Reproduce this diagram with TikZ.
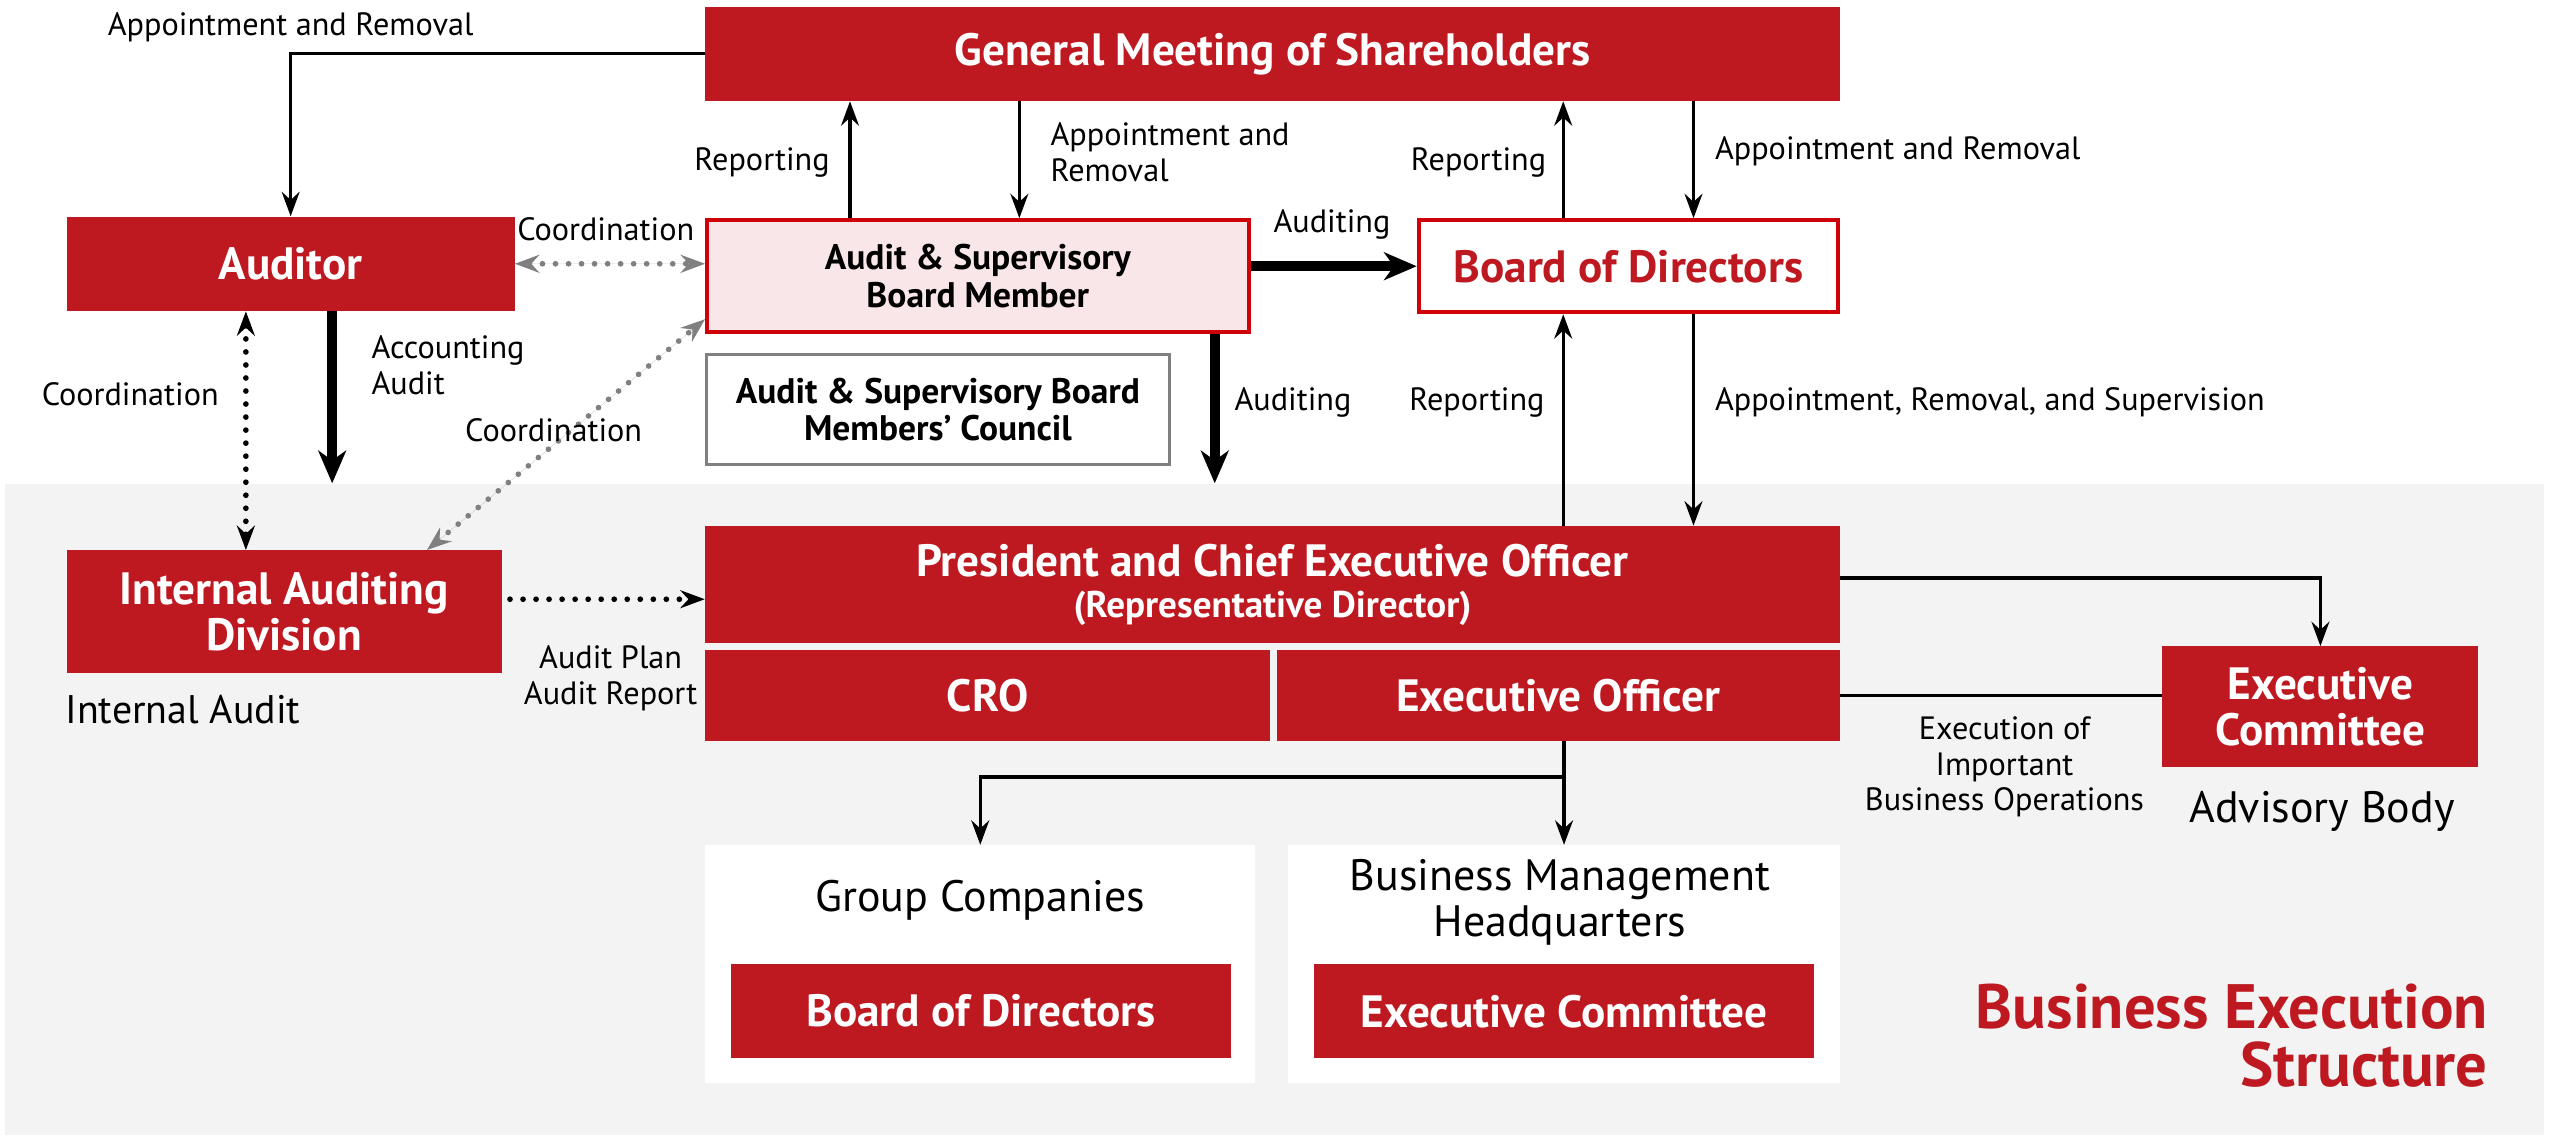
\documentclass[tikz,border=0pt]{standalone}
\usepackage{fontspec}
\setmainfont{PT Sans}
\usetikzlibrary{arrows.meta,calc,positioning}
\definecolor{bred}{RGB}{190,25,32}
\definecolor{bline}{RGB}{206,0,10}
\definecolor{bpink}{RGB}{249,230,232}
\definecolor{bgrey}{RGB}{243,243,243}
\definecolor{dgrey}{RGB}{128,128,128}
\newcommand{\bigfont}{\fontsize{27.8}{28}\selectfont}
\newcommand{\midfont}{\fontsize{21.8}{23}\selectfont}
\newcommand{\lblfont}{\fontsize{19.8}{22}\selectfont}
\newcommand{\capfont}{\fontsize{27}{28}\selectfont}
\tikzset{
  stl/.tip={Stealth[length=15pt,width=11pt,inset=5pt]},
  fatstl/.tip={Stealth[length=20pt,width=17pt,inset=6pt]},
  redbox/.style={fill=bred, text=white, font=\bfseries\bigfont, align=center, inner sep=0pt},
  pinkbox/.style={fill=bpink, draw=bline, line width=2.5pt, font=\bfseries\midfont, align=center, inner sep=0pt},
  whitebox/.style={fill=white, draw=bline, line width=2.5pt, text=bred, font=\bfseries\bigfont, align=center, inner sep=0pt},
  greybox/.style={fill=white, draw=dgrey, line width=1.5pt, font=\bfseries\midfont, align=center, inner sep=0pt},
  panel/.style={fill=white, inner sep=0pt},
  lbl/.style={font=\lblfont, align=center, inner sep=0pt},
  lbll/.style={font=\lblfont, align=left, anchor=west, inner sep=0pt},
  arr/.style={-stl, line width=2pt},
  fatarr/.style={-fatstl, line width=6pt},
  dotline/.style={line width=3.5pt, line cap=round, dash pattern=on 0pt off 8pt},
  dotarr/.style={dotline, stl-stl},
  greydot/.style={dotarr, draw=dgrey, fill=dgrey}
}
\begin{document}
\begin{tikzpicture}[x=1pt,y=-1pt]
\useasboundingbox (0,0) rectangle (1566,700);
\fill [white] (0,0) rectangle (1566,700);
\node [fill=bgrey, minimum width=1559pt, minimum height=400pt, inner sep=0pt] (bexec) at (782.5,497) {};

\node [redbox, minimum width=697pt, minimum height=58pt] (gms) at (781.5,33) {General Meeting of Shareholders};
\node [redbox, minimum width=275pt, minimum height=58pt] (auditor) at (178.5,162) {Auditor};
\node [pinkbox, minimum width=332.5pt, minimum height=68.5pt] (asbm) at (600.5,169.5) {Audit \& Supervisory\\Board Member};
\node [greybox, minimum width=284.5pt, minimum height=67.5pt] (council) at (576,251.5) {Audit \& Supervisory Board\\Members’ Council};
\node [whitebox, minimum width=257.5pt, minimum height=56.5pt] (bod) at (1000,163.5) {Board of Directors};
\node [redbox, minimum width=267pt, minimum height=75pt] (iad) at (174.5,375.5) {Internal Auditing\\Division};
\node [redbox, minimum width=697pt, minimum height=72pt] (pres) at (781.5,359) {President and Chief Executive Officer\\[-3pt]{\fontsize{22.8}{23}\selectfont(Representative Director)}};
\node [redbox, minimum width=347pt, minimum height=56pt] (cro) at (606.5,427) {CRO};
\node [redbox, minimum width=346pt, minimum height=56pt] (eo) at (957,427) {Executive Officer};
\node [redbox, minimum width=194pt, minimum height=74pt] (excom) at (1425,434) {Executive\\Committee};
\node [panel, minimum width=338pt, minimum height=146pt] (grp) at (602,592) {};
\node [redbox, minimum width=307pt, minimum height=58pt] (grpbod) at (602.5,621) {Board of Directors};
\node [panel, minimum width=339pt, minimum height=146pt] (bmh) at (960.5,592) {};
\node [redbox, minimum width=307pt, minimum height=58pt] (bmhec) at (960.5,621) {Executive Committee};

\node [font=\capfont, inner sep=0pt] (grpname) at (602,553) {Group Companies};
\node [font=\capfont, align=center, inner sep=0pt] (bmhname) at (958,554) {Business Management\\Headquarters};
\node [font=\fontsize{24.5}{28}\selectfont, anchor=west, inner sep=0pt] (iadnote) at (40,436) {Internal Audit};
\node [font=\capfont, inner sep=0pt] (excomnote) at (1426,498) {Advisory Body};
\node [font=\bfseries\fontsize{38.5}{36}\selectfont, text=bred, align=right, anchor=east, inner sep=0pt] (bestruct) at (1528,636) {Business Execution\\Structure};

\coordinate (colacc) at (204,0);
\coordinate (colcrd) at (151,0);
\coordinate (colrepa) at (522,0);
\coordinate (colappa) at (626,0);
\coordinate (colaud) at (746,0);
\coordinate (colrepb) at (960,0);
\coordinate (colappb) at (1040,0);
\coordinate (ipstart) at ([xshift=5pt,yshift=7.5pt]iad.east);
\coordinate (split) at ($(eo.south -| bmh.north)+(0,22)$);

\draw [arr] (gms.west) -| (auditor.north);
\draw [arr] (asbm.north -| colrepa) -- (gms.south -| colrepa);
\draw [arr] (gms.south -| colappa) -- (asbm.north -| colappa);
\draw [arr] (bod.north -| colrepb) -- (gms.south -| colrepb);
\draw [arr] (gms.south -| colappb) -- (bod.north -| colappb);
\draw [arr] (pres.north -| colrepb) -- (bod.south -| colrepb);
\draw [arr] (bod.south -| colappb) -- (pres.north -| colappb);
\draw [fatarr] (asbm.east |- bod.west) -- (bod.west);
\draw [fatarr] (auditor.south -| colacc) -- (bexec.north -| colacc);
\draw [fatarr] (asbm.south -| colaud) -- (bexec.north -| colaud);
\draw [greydot] (auditor.east) -- (auditor.east -| asbm.west);
\draw [dotarr] (auditor.south -| colcrd) -- (iad.north -| colcrd);
\draw [greydot] ([xshift=-46pt]iad.north east) -- ([yshift=9pt]asbm.south west);
\draw [dotline, -stl] (ipstart) -- (ipstart -| pres.west);
\draw [arr] ([yshift=4pt]pres.east) -| (excom.north);
\draw [line width=2pt] (eo.east) -- (eo.east -| excom.west);
\draw [arr] (eo.south -| bmh.north) -- (bmh.north);
\draw [arr] (split) -| (grp.north);

\node [lbl] (lgmsaud) at (178.5,17) {Appointment and Removal};
\node [lbl] (lrepa) at (468,100) {Reporting};
\node [lbll] (lappa) at (645,93.5) {Appointment and\\Removal};
\node [lbl] (lrepb) at (908,100) {Reporting};
\node [lbll] (lappb) at (1053,93) {Appointment and Removal};
\node [lbl] (lcrda) at (372,141) {Coordination};
\node [lbl] (lauda) at (818,138) {Auditing};
\node [lbll] (lacc) at (228,224.5) {Accounting\\Audit};
\node [lbl] (lcrdb) at (80,242) {Coordination};
\node [lbl] (lcrdc) at (340,264) {Coordination};
\node [lbll] (laudb) at (758,247) {Auditing};
\node [lbl] (lrepc) at (907,247) {Reporting};
\node [lbll] (lsup) at (1053,247) {Appointment, Removal, and Supervision};
\node [lbl] (lplan) at (375,416.5) {Audit Plan\\Audit Report};
\node [lbl] (lexec) at (1231,471) {Execution of\\Important\\Business Operations};
\end{tikzpicture}
\end{document}
